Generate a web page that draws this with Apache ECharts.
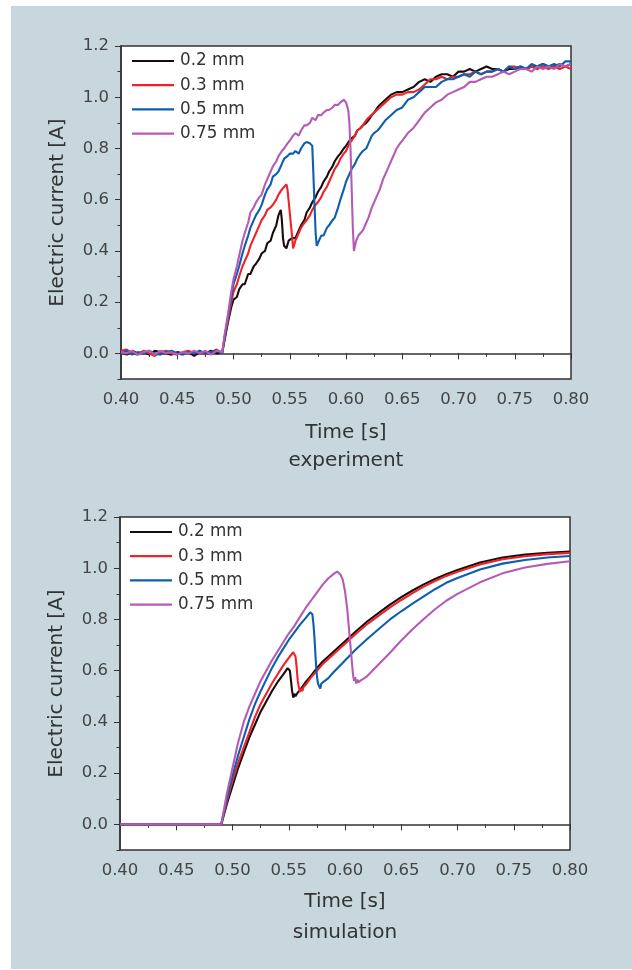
<!DOCTYPE html>
<html>
<head>
<meta charset="utf-8">
<script src="https://cdn.jsdelivr.net/npm/echarts@6/dist/echarts.min.js"></script>
<style>
html,body{margin:0;padding:0;background:#fff;}
#c{width:632px;height:970px;}
</style>
</head>
<body>
<div id="c"></div>
<script>
// ---------- DATA ----------
var seriesNames = ['0.2 mm', '0.3 mm', '0.5 mm', '0.75 mm'];
var yMajorTicks = [0, 0.2, 0.4, 0.6, 0.8, 1.0, 1.2];
var yMinorTicks = [-0.1, 0.1, 0.3, 0.5, 0.7, 0.9, 1.1];

// experiment
var exp02 = [[0.400,0.005],[0.405,-0.005],[0.410,0.01],[0.415,0],[0.420,0.005],[0.425,-0.005],[0.430,0.01],[0.435,0.005],[0.440,0],[0.445,-0.005],[0.450,0.005],[0.455,0],[0.460,0.005],[0.465,-0.01],[0.470,0.005],[0.475,0],[0.480,0.01],[0.485,0],[0.490,0.005],
[0.492,0.05],[0.495,0.12],[0.498,0.18],[0.500,0.21],[0.503,0.22],[0.505,0.25],[0.508,0.27],[0.510,0.27],[0.513,0.31],[0.515,0.31],[0.518,0.34],[0.520,0.35],[0.523,0.37],[0.525,0.39],[0.528,0.40],[0.530,0.43],[0.533,0.44],[0.535,0.47],[0.538,0.50],[0.540,0.54],[0.542,0.56],[0.543,0.52],[0.544,0.45],[0.545,0.42],[0.547,0.41],[0.549,0.44],[0.552,0.45],[0.555,0.45],[0.558,0.48],[0.560,0.50],[0.563,0.52],[0.565,0.55],[0.568,0.57],[0.570,0.59],[0.573,0.61],[0.575,0.63],[0.578,0.65],[0.580,0.67],[0.583,0.69],[0.585,0.71],[0.588,0.73],[0.590,0.75],[0.593,0.77],[0.595,0.78],[0.598,0.80],[0.600,0.81],[0.603,0.83],[0.605,0.84],[0.608,0.85],[0.610,0.87],[0.613,0.88],[0.615,0.89],[0.618,0.90],[0.620,0.91],[0.623,0.93],[0.625,0.94],[0.628,0.96],[0.630,0.97],[0.635,0.99],[0.640,1.01],[0.645,1.02],[0.650,1.02],[0.655,1.03],[0.660,1.04],[0.665,1.06],[0.670,1.07],[0.675,1.06],[0.680,1.08],[0.685,1.09],[0.690,1.09],[0.695,1.08],[0.700,1.10],[0.705,1.10],[0.710,1.11],[0.715,1.10],[0.720,1.11],[0.725,1.12],[0.730,1.11],[0.735,1.11],[0.740,1.10],[0.745,1.11],[0.750,1.11],[0.755,1.12],[0.760,1.11],[0.765,1.12],[0.770,1.12],[0.775,1.13],[0.780,1.12],[0.785,1.12],[0.790,1.13],[0.795,1.12],[0.800,1.13]];

var exp03 = [[0.400,0.01],[0.405,0.015],[0.410,0],[0.415,-0.005],[0.420,0.01],[0.425,0],[0.430,-0.01],[0.435,0.005],[0.440,0.01],[0.445,0],[0.450,-0.005],[0.455,0.005],[0.460,0.01],[0.465,0],[0.470,0.01],[0.475,-0.005],[0.480,0.005],[0.485,0.015],[0.490,0],
[0.492,0.06],[0.495,0.13],[0.498,0.20],[0.500,0.24],[0.503,0.27],[0.505,0.30],[0.508,0.34],[0.510,0.36],[0.513,0.39],[0.515,0.42],[0.518,0.45],[0.520,0.47],[0.523,0.50],[0.525,0.52],[0.528,0.54],[0.530,0.56],[0.533,0.57],[0.535,0.58],[0.538,0.60],[0.540,0.62],[0.543,0.64],[0.545,0.65],[0.547,0.66],[0.548,0.64],[0.550,0.55],[0.552,0.46],[0.553,0.41],[0.555,0.44],[0.558,0.47],[0.560,0.49],[0.563,0.51],[0.565,0.52],[0.568,0.54],[0.570,0.56],[0.573,0.58],[0.575,0.59],[0.578,0.61],[0.580,0.63],[0.583,0.65],[0.585,0.67],[0.588,0.70],[0.590,0.72],[0.593,0.74],[0.595,0.76],[0.598,0.78],[0.600,0.79],[0.603,0.82],[0.605,0.83],[0.608,0.85],[0.610,0.87],[0.613,0.88],[0.615,0.89],[0.618,0.91],[0.620,0.92],[0.625,0.94],[0.630,0.96],[0.635,0.98],[0.640,1.00],[0.645,1.01],[0.650,1.01],[0.655,1.02],[0.660,1.02],[0.665,1.03],[0.670,1.05],[0.675,1.07],[0.680,1.07],[0.685,1.08],[0.690,1.07],[0.695,1.08],[0.700,1.08],[0.705,1.09],[0.710,1.09],[0.715,1.10],[0.720,1.09],[0.725,1.10],[0.730,1.10],[0.735,1.11],[0.740,1.10],[0.745,1.12],[0.750,1.12],[0.755,1.11],[0.760,1.11],[0.765,1.12],[0.770,1.11],[0.775,1.12],[0.780,1.11],[0.785,1.12],[0.790,1.11],[0.795,1.12],[0.800,1.11]];

var exp05 = [[0.400,0],[0.405,0.01],[0.410,-0.005],[0.415,0.005],[0.420,0],[0.425,0.01],[0.430,0],[0.435,-0.005],[0.440,0.005],[0.445,0.01],[0.450,0],[0.455,-0.005],[0.460,0.005],[0.465,0],[0.470,0.01],[0.475,0],[0.480,0.005],[0.485,0.01],[0.490,0],
[0.492,0.06],[0.495,0.14],[0.498,0.22],[0.500,0.27],[0.503,0.31],[0.505,0.34],[0.508,0.39],[0.510,0.42],[0.513,0.46],[0.515,0.49],[0.518,0.52],[0.520,0.54],[0.523,0.56],[0.525,0.58],[0.528,0.62],[0.530,0.64],[0.533,0.66],[0.535,0.69],[0.538,0.70],[0.540,0.71],[0.543,0.74],[0.545,0.76],[0.548,0.77],[0.550,0.78],[0.553,0.78],[0.555,0.79],[0.558,0.78],[0.560,0.80],[0.563,0.82],[0.565,0.825],[0.568,0.82],[0.570,0.81],[0.571,0.70],[0.572,0.58],[0.573,0.47],[0.574,0.42],[0.576,0.44],[0.578,0.46],[0.580,0.46],[0.583,0.49],[0.585,0.50],[0.588,0.52],[0.590,0.53],[0.593,0.57],[0.595,0.60],[0.598,0.64],[0.600,0.67],[0.603,0.70],[0.605,0.72],[0.608,0.74],[0.610,0.76],[0.613,0.78],[0.615,0.79],[0.618,0.80],[0.620,0.82],[0.623,0.85],[0.625,0.86],[0.628,0.87],[0.630,0.88],[0.635,0.91],[0.640,0.93],[0.645,0.95],[0.650,0.96],[0.655,0.99],[0.660,1.00],[0.665,1.02],[0.670,1.04],[0.675,1.04],[0.680,1.04],[0.685,1.06],[0.690,1.07],[0.695,1.07],[0.700,1.08],[0.705,1.09],[0.710,1.08],[0.715,1.10],[0.720,1.09],[0.725,1.10],[0.730,1.10],[0.735,1.11],[0.740,1.10],[0.745,1.12],[0.750,1.11],[0.755,1.12],[0.760,1.11],[0.765,1.13],[0.770,1.12],[0.775,1.13],[0.780,1.12],[0.785,1.13],[0.790,1.12],[0.795,1.14],[0.800,1.14]];

var exp075 = [[0.400,0.005],[0.405,0],[0.410,0.01],[0.415,-0.005],[0.420,0.005],[0.425,0.01],[0.430,-0.005],[0.435,0.01],[0.440,0],[0.445,0.005],[0.450,-0.005],[0.455,0.005],[0.460,0],[0.465,0.01],[0.470,0],[0.475,0.01],[0.480,-0.005],[0.485,0.01],[0.490,0.005],
[0.492,0.07],[0.495,0.15],[0.498,0.24],[0.500,0.29],[0.503,0.34],[0.505,0.38],[0.508,0.44],[0.510,0.47],[0.513,0.51],[0.515,0.55],[0.518,0.57],[0.520,0.59],[0.523,0.61],[0.525,0.62],[0.528,0.66],[0.530,0.68],[0.533,0.71],[0.535,0.73],[0.538,0.75],[0.540,0.77],[0.543,0.79],[0.545,0.80],[0.548,0.82],[0.550,0.83],[0.553,0.85],[0.555,0.86],[0.558,0.85],[0.560,0.87],[0.563,0.89],[0.565,0.89],[0.568,0.90],[0.570,0.92],[0.573,0.91],[0.575,0.93],[0.578,0.93],[0.580,0.94],[0.583,0.95],[0.585,0.95],[0.588,0.96],[0.590,0.97],[0.593,0.97],[0.595,0.98],[0.598,0.99],[0.600,0.98],[0.602,0.95],[0.603,0.90],[0.604,0.80],[0.605,0.65],[0.606,0.50],[0.607,0.40],[0.609,0.44],[0.611,0.46],[0.613,0.47],[0.615,0.48],[0.618,0.51],[0.620,0.53],[0.623,0.57],[0.625,0.59],[0.628,0.62],[0.630,0.64],[0.633,0.68],[0.635,0.70],[0.638,0.73],[0.640,0.75],[0.643,0.78],[0.645,0.80],[0.648,0.82],[0.650,0.83],[0.655,0.86],[0.660,0.88],[0.665,0.91],[0.670,0.94],[0.675,0.96],[0.680,0.98],[0.685,0.99],[0.690,1.01],[0.695,1.02],[0.700,1.03],[0.705,1.04],[0.710,1.06],[0.715,1.06],[0.720,1.07],[0.725,1.08],[0.730,1.08],[0.735,1.09],[0.740,1.10],[0.745,1.09],[0.750,1.10],[0.755,1.11],[0.760,1.11],[0.765,1.10],[0.770,1.12],[0.775,1.11],[0.780,1.12],[0.785,1.11],[0.790,1.13],[0.795,1.12],[0.800,1.13]];

// simulation
var sim02 = [[0.40,0],[0.49,0],[0.495,0.08],[0.50,0.15],[0.505,0.22],[0.51,0.28],[0.515,0.34],[0.52,0.39],[0.525,0.44],[0.53,0.48],[0.535,0.52],[0.54,0.555],[0.545,0.585],[0.549,0.61],[0.551,0.60],[0.552,0.56],[0.553,0.52],[0.554,0.495],[0.555,0.51],[0.556,0.50],[0.558,0.515],[0.56,0.524],[0.565,0.555],[0.57,0.582],[0.575,0.61],[0.58,0.635],[0.59,0.675],[0.60,0.715],[0.61,0.755],[0.62,0.793],[0.63,0.826],[0.64,0.858],[0.65,0.887],[0.66,0.913],[0.67,0.937],[0.68,0.958],[0.69,0.977],[0.70,0.993],[0.72,1.022],[0.74,1.042],[0.76,1.053],[0.78,1.06],[0.80,1.065]];

var sim03 = [[0.40,0],[0.49,0],[0.495,0.09],[0.50,0.17],[0.505,0.24],[0.51,0.30],[0.515,0.36],[0.52,0.42],[0.525,0.47],[0.53,0.51],[0.535,0.55],[0.54,0.585],[0.545,0.62],[0.55,0.65],[0.554,0.672],[0.556,0.655],[0.557,0.615],[0.558,0.56],[0.559,0.535],[0.560,0.517],[0.561,0.53],[0.562,0.52],[0.563,0.535],[0.565,0.545],[0.57,0.575],[0.575,0.60],[0.58,0.625],[0.59,0.665],[0.60,0.705],[0.61,0.745],[0.62,0.783],[0.63,0.815],[0.64,0.847],[0.65,0.876],[0.66,0.903],[0.67,0.928],[0.68,0.95],[0.69,0.97],[0.70,0.986],[0.72,1.015],[0.74,1.035],[0.76,1.047],[0.78,1.055],[0.80,1.06]];

var sim05 = [[0.40,0],[0.49,0],[0.495,0.10],[0.50,0.19],[0.505,0.27],[0.51,0.34],[0.515,0.41],[0.52,0.47],[0.525,0.52],[0.53,0.565],[0.535,0.61],[0.54,0.65],[0.545,0.685],[0.55,0.72],[0.555,0.75],[0.56,0.78],[0.565,0.805],[0.569,0.828],[0.571,0.82],[0.572,0.78],[0.573,0.72],[0.574,0.64],[0.575,0.58],[0.576,0.55],[0.577,0.54],[0.578,0.53],[0.579,0.55],[0.580,0.545],[0.582,0.56],[0.585,0.57],[0.59,0.595],[0.60,0.64],[0.61,0.685],[0.62,0.725],[0.63,0.763],[0.64,0.80],[0.65,0.832],[0.66,0.862],[0.67,0.89],[0.68,0.918],[0.69,0.943],[0.70,0.962],[0.72,0.995],[0.74,1.018],[0.76,1.032],[0.78,1.042],[0.80,1.048]];

var sim075 = [[0.40,0],[0.49,0],[0.495,0.12],[0.50,0.22],[0.505,0.32],[0.51,0.40],[0.515,0.46],[0.52,0.51],[0.525,0.56],[0.53,0.60],[0.535,0.64],[0.54,0.675],[0.545,0.71],[0.55,0.745],[0.555,0.775],[0.56,0.81],[0.565,0.845],[0.57,0.875],[0.575,0.905],[0.58,0.935],[0.585,0.96],[0.59,0.978],[0.593,0.987],[0.596,0.975],[0.598,0.955],[0.600,0.91],[0.602,0.84],[0.604,0.74],[0.606,0.64],[0.607,0.59],[0.608,0.56],[0.609,0.575],[0.610,0.55],[0.611,0.565],[0.612,0.555],[0.614,0.562],[0.617,0.57],[0.62,0.58],[0.63,0.625],[0.64,0.67],[0.65,0.718],[0.66,0.762],[0.67,0.802],[0.68,0.84],[0.69,0.873],[0.70,0.90],[0.72,0.945],[0.74,0.98],[0.76,1.003],[0.78,1.017],[0.80,1.027]];

var colors = ['#1a0c0c', '#ee2229', '#0b5fae', '#b65bb5'];
var expData = [exp02, exp03, exp05, exp075];
var simData = [sim02, sim03, sim05, sim075];

// ---------- CHART ----------
var FONT = 'DejaVu Sans';
var chart = echarts.init(document.getElementById('c'), null, {renderer: 'canvas'});

function xAxis(gi, gap) {
  return {
    type: 'value', gridIndex: gi, min: 0.4, max: 0.8, interval: 0.05,
    name: 'Time [s]', nameLocation: 'middle', nameGap: gap,
    nameTextStyle: {fontFamily: FONT, fontSize: 20, color: '#333'},
    axisLine: {show: true, lineStyle: {color: '#333', width: 1.5}},
    axisTick: {show: true, length: 6, lineStyle: {color: '#333', width: 1}},
    minorTick: {show: true, splitNumber: 2, length: 3.5, lineStyle: {color: '#333', width: 1}},
    splitLine: {show: false}, minorSplitLine: {show: false},
    axisLabel: {fontFamily: FONT, fontSize: 16.5, color: '#444', margin: 12,
      formatter: function (v) { return v.toFixed(2); }}
  };
}
function yAxisMain(gi) {
  return {
    type: 'value', gridIndex: gi, min: -0.1, max: 1.2,
    name: 'Electric current [A]', nameLocation: 'middle', nameGap: 53,
    nameTextStyle: {fontFamily: FONT, fontSize: 20, color: '#333'},
    axisLine: {show: true, lineStyle: {color: '#333', width: 1.5}},
    axisTick: {show: true, length: 6, customValues: yMajorTicks, lineStyle: {color: '#333', width: 1}},
    splitLine: {show: false},
    axisLabel: {fontFamily: FONT, fontSize: 16.5, color: '#444', margin: 12, customValues: yMajorTicks,
      formatter: function (v) { return v.toFixed(1); }}
  };
}
function yAxisMinor(gi) {
  return {
    type: 'value', gridIndex: gi, min: -0.1, max: 1.2, position: 'left',
    axisLine: {show: false},
    axisTick: {show: true, length: 3.5, customValues: yMinorTicks, lineStyle: {color: '#333', width: 1}},
    axisLabel: {show: false, customValues: yMinorTicks},
    splitLine: {show: false}
  };
}
function legend(left, top) {
  return {
    data: seriesNames, orient: 'vertical', left: left, top: top, padding: 0,
    icon: 'rect', itemWidth: 42, itemHeight: 2.2, itemGap: 6.2,
    textStyle: {fontFamily: FONT, fontSize: 16.8, color: '#333', lineHeight: 18, padding: [0, 0, 0, 1]}
  };
}

var series = [];
seriesNames.forEach(function (n, i) {
  series.push({name: n, type: 'line', xAxisIndex: 0, yAxisIndex: 0, data: expData[i],
    symbol: 'none', color: colors[i], lineStyle: {width: 2.1, color: colors[i]}, z: 3 + i});
});
seriesNames.forEach(function (n, i) {
  series.push({name: n, type: 'line', xAxisIndex: 1, yAxisIndex: 2, data: simData[i],
    symbol: 'none', color: colors[i], lineStyle: {width: 2.1, color: colors[i]}, z: 3 + i});
});

chart.setOption({
  animation: false,
  backgroundColor: '#ffffff',
  textStyle: {fontFamily: FONT},
  graphic: [
    {type: 'rect', shape: {x: 11, y: 6, width: 621, height: 963}, style: {fill: '#c8d7de'}, z: -10, silent: true},
    {type: 'text', x: 346, y: 461, style: {text: 'experiment', fontFamily: FONT, fontSize: 20, fill: '#333', textAlign: 'center', textVerticalAlign: 'middle'}},
    {type: 'text', x: 345, y: 933, style: {text: 'simulation', fontFamily: FONT, fontSize: 20, fill: '#333', textAlign: 'center', textVerticalAlign: 'middle'}}
  ],
  legend: [legend(132, 52), legend(130, 523)],
  grid: [
    {left: 121, top: 46, width: 450, height: 333, show: true, backgroundColor: '#fff', borderColor: '#333', borderWidth: 1.5, containLabel: false},
    {left: 120, top: 517, width: 450, height: 333, show: true, backgroundColor: '#fff', borderColor: '#333', borderWidth: 1.5, containLabel: false}
  ],
  xAxis: [xAxis(0, 44), xAxis(1, 42)],
  yAxis: [yAxisMain(0), yAxisMinor(0), yAxisMain(1), yAxisMinor(1)],
  series: series
});
</script>
</body>
</html>
